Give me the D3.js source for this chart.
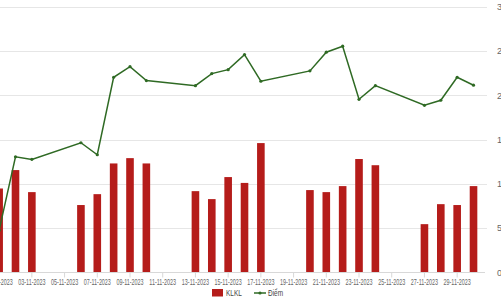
<!DOCTYPE html>
<html><head><meta charset="utf-8">
<script src="https://cdn.jsdelivr.net/npm/d3@7"></script>
<style>body{margin:0;background:#fff;overflow:hidden}svg{display:block}</style>
</head><body>
<svg id="c" width="501" height="300"></svg>
<script>
const days = d3.range(1, 31).map(d => String(d).padStart(2, "0") + "-11-2023");
const barDates = ["01","02","03","06","07","08","09","10","13","14","15","16","17","20","21","22","23","24","27","28","29","30"].map(d => d + "-11-2023");
const klkl = [9.47,11.55,9.06,7.6,8.83,12.3,12.9,12.3,9.17,8.27,10.76,10.1,14.6,9.29,9.06,9.74,12.8,12.1,5.44,7.7,7.6,9.74];
const diem = [4.75,13.05,12.76,14.64,13.28,22.04,23.24,21.66,21.09,22.45,22.9,24.6,21.59,22.76,24.87,25.55,19.55,21.09,18.87,19.44,22.04,21.14];
const yTicks = [0,5,10,15,20,25,30];
const xLabels = days.filter((d,i) => i % 2 === 0);

const svg = d3.select("#c");
const font = "'Liberation Sans',Arial,sans-serif";
const x = d3.scaleBand().domain(days).range([-9.04, 481.7]).paddingInner(0.54).paddingOuter(0.27);
const y = d3.scaleLinear().domain([0, 30]).range([272.3, 6.8]);
const cx = d => x(d) + x.bandwidth() / 2;

// gridlines
svg.append("g").selectAll("line").data(yTicks.filter(t => t > 0)).join("line")
  .attr("x1", 0).attr("x2", 487).attr("y1", d => Math.round(y(d)) + 0.5).attr("y2", d => Math.round(y(d)) + 0.5)
  .attr("stroke", "#e6e6e6").attr("stroke-width", 1);

// right axis labels
const ya = svg.append("g").attr("transform", "translate(494,0)")
  .call(d3.axisRight(y).tickValues(yTicks).tickSize(0).tickPadding(3));
ya.select(".domain").remove();
ya.selectAll("text").attr("font-family", font).attr("font-size", 9).attr("fill", "#666");

// bars
svg.append("g").selectAll("rect").data(barDates).join("rect")
  .attr("x", d => cx(d) - 3.8).attr("width", 7.6)
  .attr("y", (d,i) => y(klkl[i])).attr("height", (d,i) => y(0) - y(klkl[i]))
  .attr("fill", "#b51c1a");

// x axis
const xa = svg.append("g").attr("transform", "translate(0,272.5)")
  .call(d3.axisBottom(x).tickValues(xLabels).tickSize(5).tickPadding(1));
xa.select(".domain").attr("d", "M0,0H485").attr("stroke", "#d8d8d8");
xa.selectAll(".tick line").attr("stroke", "#d8d8d8");
xa.selectAll("text").attr("font-family", font).attr("font-size", 9).attr("fill", "#666")
  .attr("transform", "scale(0.6,1)");

// line
const line = d3.line().x((d,i) => cx(barDates[i])).y(d => y(d));
svg.append("path").datum(diem).attr("d", line).attr("fill", "none")
  .attr("stroke", "#2f6a24").attr("stroke-width", 1.5);
svg.append("g").selectAll("circle").data(diem).join("circle")
  .attr("cx", (d,i) => cx(barDates[i])).attr("cy", d => y(d)).attr("r", 1.6).attr("fill", "#2f6a24");

// legend
const lg = svg.append("g").attr("transform", "translate(0,292.5)");
lg.append("rect").attr("x", 212).attr("y", -3.5).attr("width", 11).attr("height", 7.5).attr("fill", "#b51c1a");
lg.append("text").attr("transform", "translate(226,3.5) scale(0.68,1)").text("KLKL")
  .attr("font-family", font).attr("font-size", 9.5).attr("fill", "#444");
lg.append("line").attr("x1", 254).attr("x2", 266).attr("y1", 0.5).attr("y2", 0.5).attr("stroke", "#2f6a24").attr("stroke-width", 1.5);
lg.append("circle").attr("cx", 260).attr("cy", 0.5).attr("r", 1.6).attr("fill", "#2f6a24");
lg.append("text").attr("transform", "translate(268,3.5) scale(0.68,1)").text("Điểm")
  .attr("font-family", font).attr("font-size", 9.5).attr("fill", "#444");
</script>
</body></html>
